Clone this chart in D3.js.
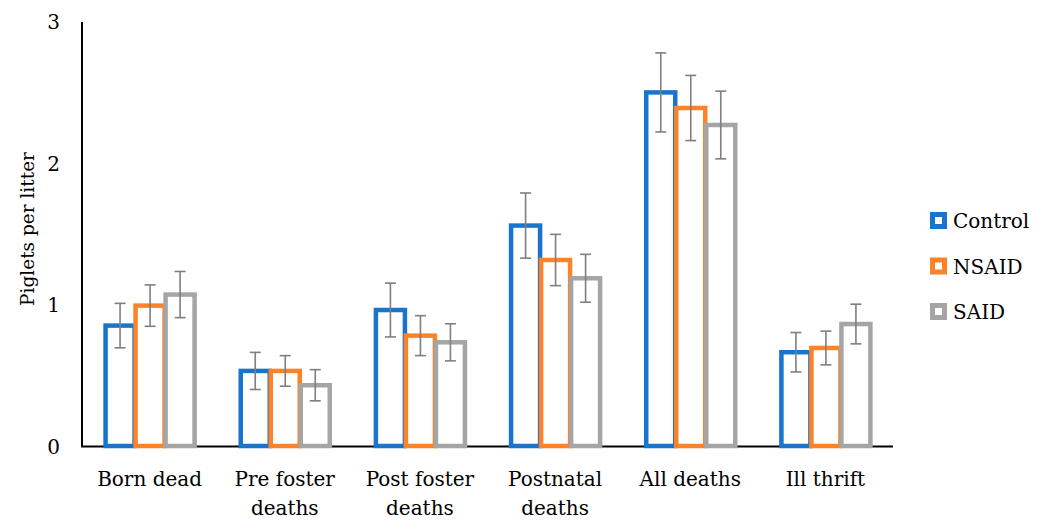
<!DOCTYPE html>
<html>
<head>
<meta charset="utf-8">
<script src="https://cdn.jsdelivr.net/npm/d3@7"></script>
<style>
  body { margin: 0; background: #fff; }
  text { font-family: "DejaVu Serif", "Liberation Serif", serif; fill: #000; }
</style>
</head>
<body>
<svg id="chart" width="1045" height="521"></svg>
<script>
const categories = [["Born dead"], ["Pre foster", "deaths"], ["Post foster", "deaths"], ["Postnatal", "deaths"], ["All deaths"], ["Ill thrift"]];
const seriesNames = ["Control", "NSAID", "SAID"];
const control = [0.857, 0.537, 0.967, 1.563, 2.503, 0.669];
const nsaid = [0.998, 0.537, 0.786, 1.320, 2.393, 0.699];
const said = [1.076, 0.436, 0.739, 1.191, 2.273, 0.868];
const controlErr = [0.157, 0.131, 0.190, 0.230, 0.279, 0.139];
const nsaidErr = [0.146, 0.108, 0.141, 0.181, 0.230, 0.119];
const saidErr = [0.163, 0.110, 0.131, 0.169, 0.239, 0.140];
const yTicks = [0, 1, 2, 3];

const colors = ["#1874cd", "#fd8228", "#a5a5a5"];
const values = [control, nsaid, said];
const errors = [controlErr, nsaidErr, saidErr];

const svg = d3.select("#chart");
const plotLeft = 82, plotRight = 893, plotTop = 22, plotBottom = 447;

const x0 = d3.scaleBand()
    .domain(d3.range(categories.length))
    .range([plotLeft, plotRight])
    .paddingInner(0.334)
    .paddingOuter(0.167);
const x1 = d3.scaleBand()
    .domain(seriesNames)
    .range([0, x0.bandwidth()]);
const y = d3.scaleLinear().domain([0, 3]).range([plotBottom, plotTop]);

// axes lines
svg.append("line").attr("x1", plotLeft).attr("x2", plotLeft).attr("y1", plotTop).attr("y2", plotBottom)
    .attr("stroke", "#000").attr("stroke-width", 2);
svg.append("line").attr("x1", plotLeft - 1).attr("x2", plotRight).attr("y1", plotBottom - 0.5).attr("y2", plotBottom - 0.5)
    .attr("stroke", "#000").attr("stroke-width", 2);

// y tick labels
svg.selectAll(".ytick").data(yTicks).enter().append("text")
    .attr("x", 60).attr("y", d => y(d)).attr("dy", "0.35em")
    .attr("text-anchor", "end").style("font-size", "20px")
    .text(d => d);

// y title
svg.append("text")
    .attr("transform", `translate(34,229) rotate(-90)`)
    .attr("text-anchor", "middle").style("font-size", "18.5px")
    .text("Piglets per litter");

// bars
const rows = [];
categories.forEach((c, i) => seriesNames.forEach((s, j) => {
    rows.push({cat: i, key: s, j: j, v: values[j][i], e: errors[j][i]});
}));

svg.selectAll(".bar").data(rows).enter().append("rect")
    .attr("x", d => x0(d.cat) + x1(d.key) + 1)
    .attr("width", x1.bandwidth() - 1)
    .attr("y", d => y(d.v))
    .attr("height", d => y(0) - 1 - y(d.v))
    .attr("fill", "#fff")
    .attr("stroke", d => colors[d.j])
    .attr("stroke-width", 4.5);

// error bars
const eb = svg.selectAll(".err").data(rows).enter().append("g")
    .attr("stroke", "#7f7f7f").attr("stroke-width", 1.6);
const cx = d => x0(d.cat) + x1(d.key) + x1.bandwidth() / 2 + 0.5;
eb.append("line").attr("x1", cx).attr("x2", cx)
    .attr("y1", d => y(d.v + d.e)).attr("y2", d => y(d.v - d.e));
eb.append("line").attr("x1", d => cx(d) - 5.5).attr("x2", d => cx(d) + 5.5)
    .attr("y1", d => y(d.v + d.e)).attr("y2", d => y(d.v + d.e));
eb.append("line").attr("x1", d => cx(d) - 5.5).attr("x2", d => cx(d) + 5.5)
    .attr("y1", d => y(d.v - d.e)).attr("y2", d => y(d.v - d.e));

// x labels
svg.selectAll(".xlab").data(categories).enter().append("text")
    .attr("x", (d, i) => x0(i) + x0.bandwidth() / 2)
    .attr("y", 486)
    .attr("text-anchor", "middle").style("font-size", "20px")
    .each(function(d) {
        const t = d3.select(this);
        d.forEach((line, k) => {
            t.append("tspan").attr("x", t.attr("x")).attr("dy", k === 0 ? 0 : 29).text(line);
        });
    });

// legend
const lg = svg.selectAll(".leg").data(seriesNames).enter().append("g")
    .attr("transform", (d, i) => `translate(932,${221 + i * 45.5})`);
lg.append("rect").attr("x", 0.5).attr("y", -6.5).attr("width", 12).attr("height", 12)
    .attr("fill", "#fff").attr("stroke", (d, i) => colors[i]).attr("stroke-width", 5);
lg.append("text").attr("x", 21).attr("y", 0).attr("dy", "0.35em")
    .style("font-size", "20px").text(d => d);
</script>
</body>
</html>
